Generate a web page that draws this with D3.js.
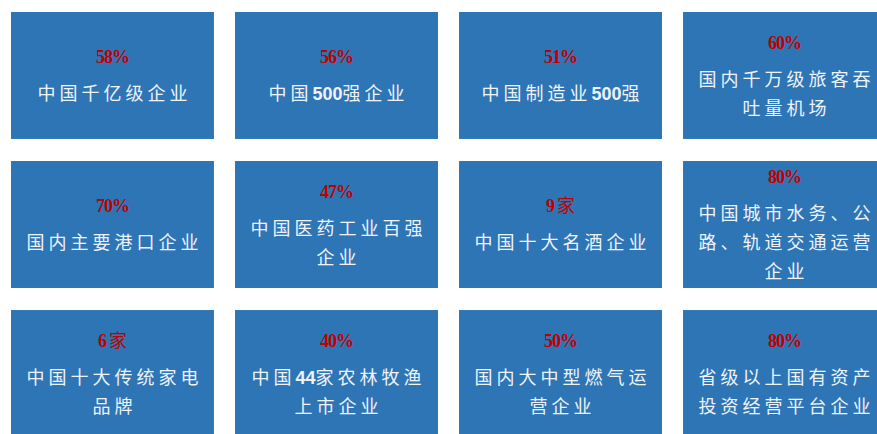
<!DOCTYPE html>
<html>
<head>
<meta charset="utf-8">
<script src="https://cdn.jsdelivr.net/npm/d3@7"></script>
<style>
    html, body { margin: 0; padding: 0; background: #fff; }
    svg { display: block; }
</style>
</head>
<body>
<div class="chart"></div>
<script>
// tile contents, read left-to-right, top-to-bottom
var values = ["58%", "56%", "51%", "60%",
              "70%", "47%", "9家", "80%",
              "6家", "40%", "50%", "80%"];

var labels = [
    ["中国千亿级企业"], ["中国500强企业"], ["中国制造业500强"], ["国内千万级旅客吞", "吐量机场"],
    ["国内主要港口企业"], ["中国医药工业百强", "企业"], ["中国十大名酒企业"], ["中国城市水务、公", "路、轨道交通运营", "企业"],
    ["中国十大传统家电", "品牌"], ["中国44家农林牧渔", "上市企业"], ["国内大中型燃气运", "营企业"], ["省级以上国有资产", "投资经营平台企业"]
];

var cols = [0, 1, 2, 3];
var rows = [0, 1, 2];

var dim = { width: 877, height: 434 };

var x = d3.scaleBand()
    .domain(cols)
    .range([11, 886])
    .paddingInner(0.094)
    .paddingOuter(0);

var y = d3.scaleBand()
    .domain(rows)
    .range([12, 437])
    .paddingInner(0.148)
    .paddingOuter(0);

var svg = d3.select(".chart").append("svg")
    .attr("width", dim.width)
    .attr("height", dim.height);

var data = values.map(function(v, i) {
    return { value: v, lines: labels[i], col: i % 4, row: Math.floor(i / 4) };
});

var tile = svg.selectAll("g.tile")
    .data(data)
    .enter()
    .append("g")
    .attr("class", "tile")
    .attr("transform", function(d) { return "translate(" + x(d.col) + "," + y(d.row) + ")"; });

tile.append("rect")
    .attr("width", x.bandwidth())
    .attr("height", y.bandwidth())
    .attr("fill", "#2e75b6");

var valueGap = 37, lineGap = 29;

// split a string into latin runs (digits, %) and CJK runs
function runs(s) {
    return s.match(/[\d%]+|[^\d%]+/g);
}
function isLatin(r) { return /[\d%]/.test(r); }

tile.each(function(d) {
    var g = d3.select(this);
    var block = valueGap + (d.lines.length - 1) * lineGap;
    var top = y.bandwidth() / 2 - block / 2;

    g.append("text")
        .attr("class", "value")
        .attr("x", x.bandwidth() / 2)
        .attr("y", top)
        .attr("dy", "0.35em")
        .style("text-anchor", "middle")
        .style("font-size", "18px")
        .attr("fill", "#c00000")
        .selectAll("tspan")
        .data(runs(d.value))
        .enter()
        .append("tspan")
        .style("font-family", function(t) { return isLatin(t) ? "'Liberation Serif', serif" : "'Noto Sans CJK SC', sans-serif"; })
        .style("letter-spacing", function(t) { return isLatin(t) ? "-1px" : "0px"; })
        .style("font-weight", function(t) { return isLatin(t) ? "bold" : "normal"; })
        .attr("dx", function(t, i) { return i > 0 && !isLatin(t) ? 3 : 0; })
        .text(function(t) { return t; });

    g.selectAll("text.label")
        .data(d.lines)
        .enter()
        .append("text")
        .attr("class", "label")
        .attr("x", x.bandwidth() / 2 + 2)
        .attr("y", function(t, i) { return top + valueGap + i * lineGap; })
        .attr("dy", "0.35em")
        .style("text-anchor", "middle")
        .style("font-size", "18px")
        .attr("fill", "#eef3fa")
        .each(function(t) {
            d3.select(this).selectAll("tspan")
                .data(runs(t))
                .enter()
                .append("tspan")
                .style("font-family", function(r) { return isLatin(r) ? "'Liberation Sans', sans-serif" : "'Noto Sans CJK SC', sans-serif"; })
                .style("font-weight", function(r) { return isLatin(r) ? "bold" : "normal"; })
                .style("letter-spacing", function(r) { return isLatin(r) ? "0px" : "4px"; })
                .text(function(r) { return r; });
        });
});
</script>
</body>
</html>
